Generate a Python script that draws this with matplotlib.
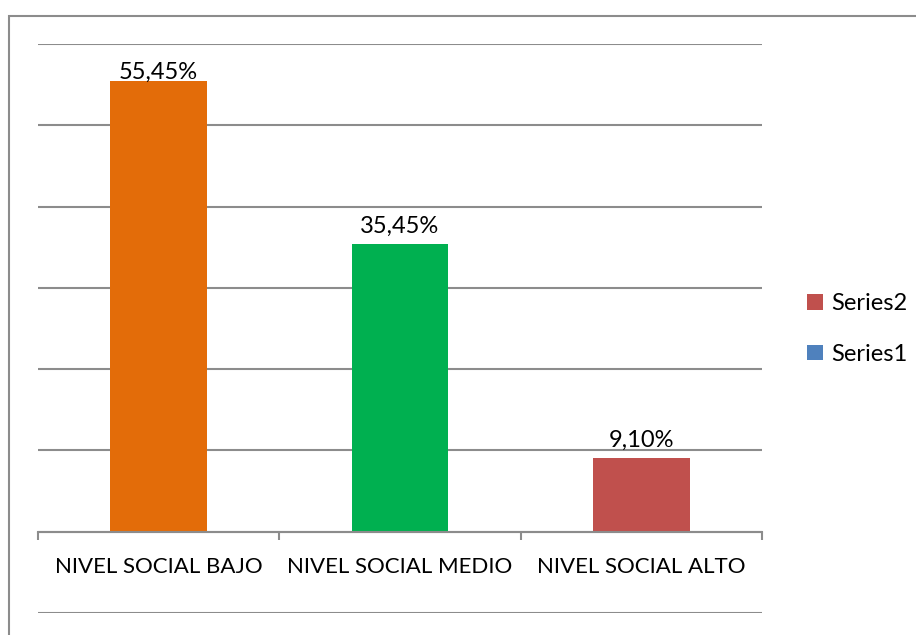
import matplotlib.pyplot as plt
from matplotlib.patches import Patch, Rectangle

categories = ['NIVEL SOCIAL BAJO', 'NIVEL SOCIAL MEDIO', 'NIVEL SOCIAL ALTO']
values = [0.5545, 0.3545, 0.0910]
bar_colors = ['#E36C09', '#00B050', '#C0504D']
legend_names = ['Series2', 'Series1']
legend_colors = ['#C0504D', '#4F81BD']
grid_vals = [-0.1, 0.0, 0.1, 0.2, 0.3, 0.4, 0.5, 0.6]

plt.rcParams['font.family'] = ['Lato', 'DejaVu Sans']
W, H = 916, 635
fig = plt.figure(figsize=(W / 100, H / 100), dpi=100)

# outer chart border (cut off on the right and bottom like the source)
fig.patches.append(Rectangle((9 / W, -0.05), 1.2, (H - 16) / H + 0.05,
                             transform=fig.transFigure, fill=False,
                             edgecolor='#8c8c8c', linewidth=1.5))

ax = fig.add_axes([38 / W, (H - 613) / H, (762 - 38) / W, (613 - 44) / H])
x = list(range(len(categories)))
ax.bar(x, values, width=0.4, color=bar_colors, zorder=3)

for xi, v in zip(x, values):
    # excel pushes the tallest label down so it stays inside the plot area
    off = -1 if v > 0.5 else 5
    ax.annotate(f'{v * 100:.2f}%'.replace('.', ','), (xi, v),
                xytext=(0, off), textcoords='offset points',
                ha='center', va='bottom', fontsize=17, zorder=5)

ax.set_xlim(-0.5, 2.5)
ax.set_ylim(-0.1, 0.6)
ax.set_yticks(grid_vals)
ax.yaxis.grid(True, color='#8c8c8c', linewidth=1.5, zorder=0)
ax.tick_params(axis='y', length=0, labelleft=False)

for s in ['top', 'right', 'left']:
    ax.spines[s].set_visible(False)
ax.spines['bottom'].set_position(('data', 0))
ax.spines['bottom'].set_color('#8c8c8c')
ax.spines['bottom'].set_linewidth(1.5)
ax.spines['bottom'].set_zorder(4)

ax.set_xticks(x)
ax.set_xticklabels(categories, fontsize=16)
ax.set_xticks([-0.5, 0.5, 1.5, 2.5], minor=True)
ax.tick_params(axis='x', which='major', length=0, pad=18)
ax.tick_params(axis='x', which='minor', length=6, width=1.5,
               color='#8c8c8c', direction='out')

handles = [Patch(facecolor=c) for c in legend_colors]
fig.legend(handles, legend_names, loc='center left',
           bbox_to_anchor=(786 / W, (H - 329) / H), frameon=False,
           fontsize=17, handlelength=0.65, handleheight=0.65,
           handletextpad=0.35, labelspacing=1.25)

fig.savefig('out.png', dpi=100)
